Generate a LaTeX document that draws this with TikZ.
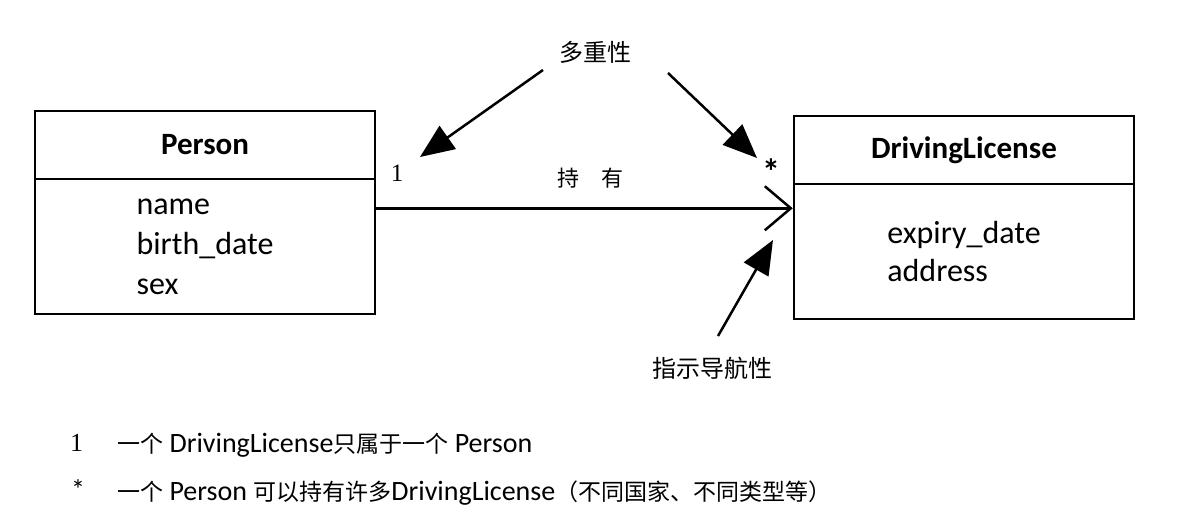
\documentclass[tikz,border=0pt]{standalone}
\usepackage{fontspec}
\setmainfont{Carlito}
\newfontfamily\cjk{Noto Sans CJK SC}
\newfontfamily\numfont{Liberation Serif}
\usetikzlibrary{arrows.meta, positioning, calc}

\begin{document}
\begin{tikzpicture}[
        x=1pt, y=-1pt,
        classname/.style={rectangle, draw, line width=2.5pt,
                          minimum width=340pt, minimum height=68pt,
                          font=\fontsize{31}{36}\selectfont\bfseries},
        classattr/.style={rectangle, draw, line width=2.5pt,
                          minimum width=340pt, minimum height=135pt,
                          align=left, inner sep=0pt},
        callout/.style={-{Triangle[length=34pt, width=28pt]}, line width=2.5pt},
        assoc/.style={-{Straight Barb[length=26pt, width=44pt, line width=2.5pt]}, line width=2.5pt},
        cn/.style={font=\cjk\fontsize{24}{28}\selectfont},
        legend/.style={anchor=west, inner sep=0pt, font=\fontsize{28}{32}\selectfont},
    ]
        \useasboundingbox (0,0) rectangle (1185,524);

        % classes
        \node[classname] (person) at (205,145) {Person};
        \node[classattr, below=-2.5pt of person, font=\fontsize{32}{40}\selectfont] (personattr) {name\\birth\_date\\sex};
        \node[classname] (license) at (964,150) {DrivingLicense};
        \node[classattr, below=-2.5pt of license, font=\fontsize{32}{38}\selectfont] (licenseattr) {expiry\_date\\address};

        % association
        \draw[assoc] ([yshift=-30.5pt]personattr.north east) -- ([yshift=-25.5pt]licenseattr.north west);
        \node[font=\numfont\fontsize{25}{28}\selectfont] (one) at (397,173) {1};
        \node[font=\fontsize{36}{40}\selectfont\bfseries] (many) at (771,172) {*};
        \node[cn, font=\cjk\fontsize{22}{26}\selectfont] (hold) at (590,178) {持\hspace{1em}有};

        % callouts
        \node[cn] (mult) at (595,52) {多重性};
        \node[cn] (nav) at (712,368) {指示导航性};
        \coordinate (tipone) at (420,157);
        \coordinate (tipmany) at (757,158);
        \coordinate (tipnav) at (773,240);
        \draw[callout] (543,70) -- (tipone);
        \draw[callout] (668,73) -- (tipmany);
        \draw[callout] (718,336) -- (tipnav);

        % legend
        \node[legend, font=\numfont\fontsize{26}{28}\selectfont] (keyone) at (70,443) {1};
        \node[legend] (noteone) at (117,445) {{\cjk\fontsize{23}{28}\selectfont 一个} DrivingLicense{\cjk\fontsize{23}{28}\selectfont 只属于一个} Person};
        \node[legend] (keymany) at (71,490) {*};
        \node[legend] (notemany) at (117,493) {{\cjk\fontsize{23}{28}\selectfont 一个} Person {\cjk\fontsize{23}{28}\selectfont 可以持有许多}DrivingLicense{\cjk\fontsize{23}{28}\selectfont （不同国家、不同类型等）}};

    \end{tikzpicture}
\end{document}
